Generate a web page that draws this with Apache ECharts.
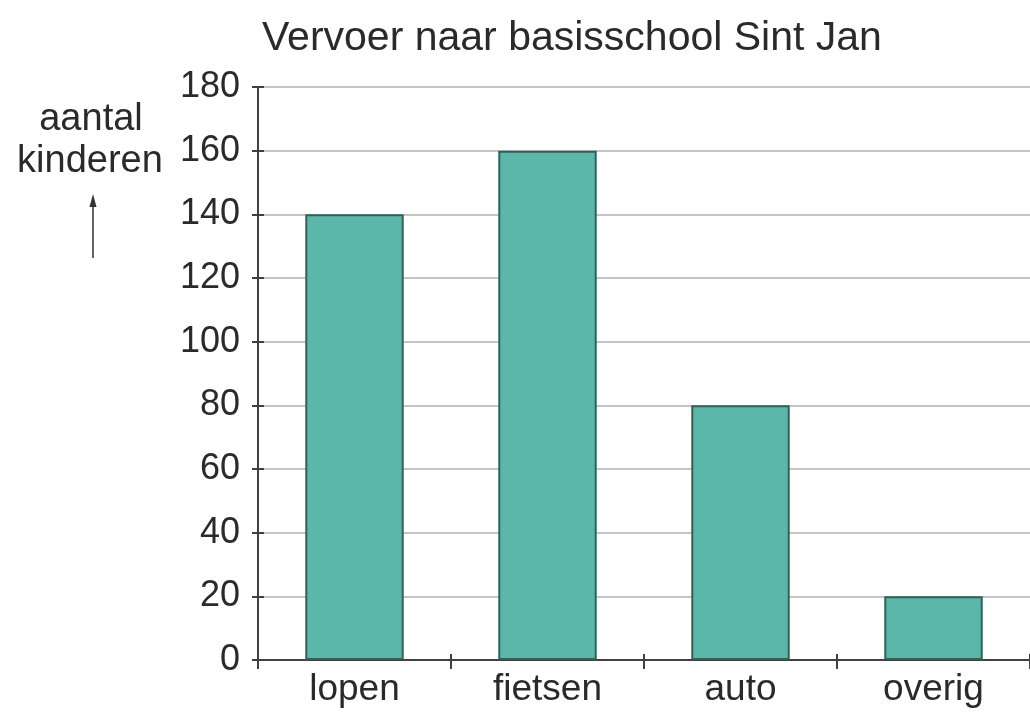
<!DOCTYPE html>
<html>
<head>
<meta charset="utf-8">
<script src="https://cdn.jsdelivr.net/npm/echarts@6/dist/echarts.min.js"></script>
<style>html,body{margin:0;padding:0;background:#fff;}#c{width:1030px;height:715px;}</style>
</head>
<body>
<div id="c"></div>
<script>
const categories = ['lopen', 'fietsen', 'auto', 'overig'];
const values = [140, 160, 80, 20];
const yTicks = [0, 20, 40, 60, 80, 100, 120, 140, 160, 180];
const titleText = 'Vervoer naar basisschool Sint Jan';
const yName = ['aantal', 'kinderen'];

const FONT = '"Liberation Sans", Arial, sans-serif';
const chart = echarts.init(document.getElementById('c'), null, {renderer: 'canvas'});
const axisColor = '#404040';
const textColor = '#2a2a2a';
const yMin = yTicks[0], yMax = yTicks[yTicks.length - 1], yStep = yTicks[1] - yTicks[0];

chart.setOption({
  animation: false,
  backgroundColor: '#fff',
  title: {
    text: titleText, left: 257, top: 13,
    textStyle: {fontFamily: FONT, fontSize: 41, fontWeight: 'normal', color: textColor}
  },
  grid: {left: 258, right: 0, top: 87, bottom: 55, containLabel: false},
  xAxis: [{
    type: 'category', data: categories, boundaryGap: true,
    axisLine: {lineStyle: {color: axisColor, width: 2}},
    axisTick: {show: true, inside: false, length: 9, lineStyle: {color: axisColor, width: 2}},
    axisLabel: {fontFamily: FONT, fontSize: 37, color: textColor, margin: 11}
  }, {
    type: 'category', data: categories, position: 'bottom', boundaryGap: true,
    axisLine: {show: false},
    axisTick: {show: true, inside: true, length: 6, lineStyle: {color: axisColor, width: 2}},
    axisLabel: {show: false}
  }],
  yAxis: [{
    type: 'value', min: yMin, max: yMax, interval: yStep,
    axisLine: {show: true, lineStyle: {color: axisColor, width: 2}},
    axisTick: {show: true, inside: false, length: 6, lineStyle: {color: axisColor, width: 2}},
    axisLabel: {fontFamily: FONT, fontSize: 36, color: textColor, margin: 18},
    splitLine: {show: true, lineStyle: {color: '#c4c4c4', width: 2}}
  }, {
    type: 'value', min: yMin, max: yMax, interval: yStep, position: 'left',
    axisLine: {show: false},
    axisTick: {show: true, inside: true, length: 6, lineStyle: {color: axisColor, width: 2}},
    axisLabel: {show: false},
    splitLine: {show: false}
  }],
  series: [{
    type: 'bar', data: values, barWidth: '51%', xAxisIndex: 0, yAxisIndex: 0,
    itemStyle: {color: '#5bb8a8', borderColor: '#2c6259', borderWidth: 2}
  }],
  graphic: [
    {type: 'text', x: 91, y: 120, style: {text: yName[0], fontFamily: FONT, fontSize: 38, fill: textColor, align: 'center', verticalAlign: 'middle'}},
    {type: 'text', x: 90, y: 162, style: {text: yName[1], fontFamily: FONT, fontSize: 38, fill: textColor, align: 'center', verticalAlign: 'middle'}},
    {type: 'line', shape: {x1: 93, y1: 204, x2: 93, y2: 258}, style: {stroke: '#333', lineWidth: 1.5}},
    {type: 'polygon', shape: {points: [[93, 194], [89.5, 207], [96.5, 207]]}, style: {fill: '#333'}}
  ]
});
</script>
</body>
</html>
